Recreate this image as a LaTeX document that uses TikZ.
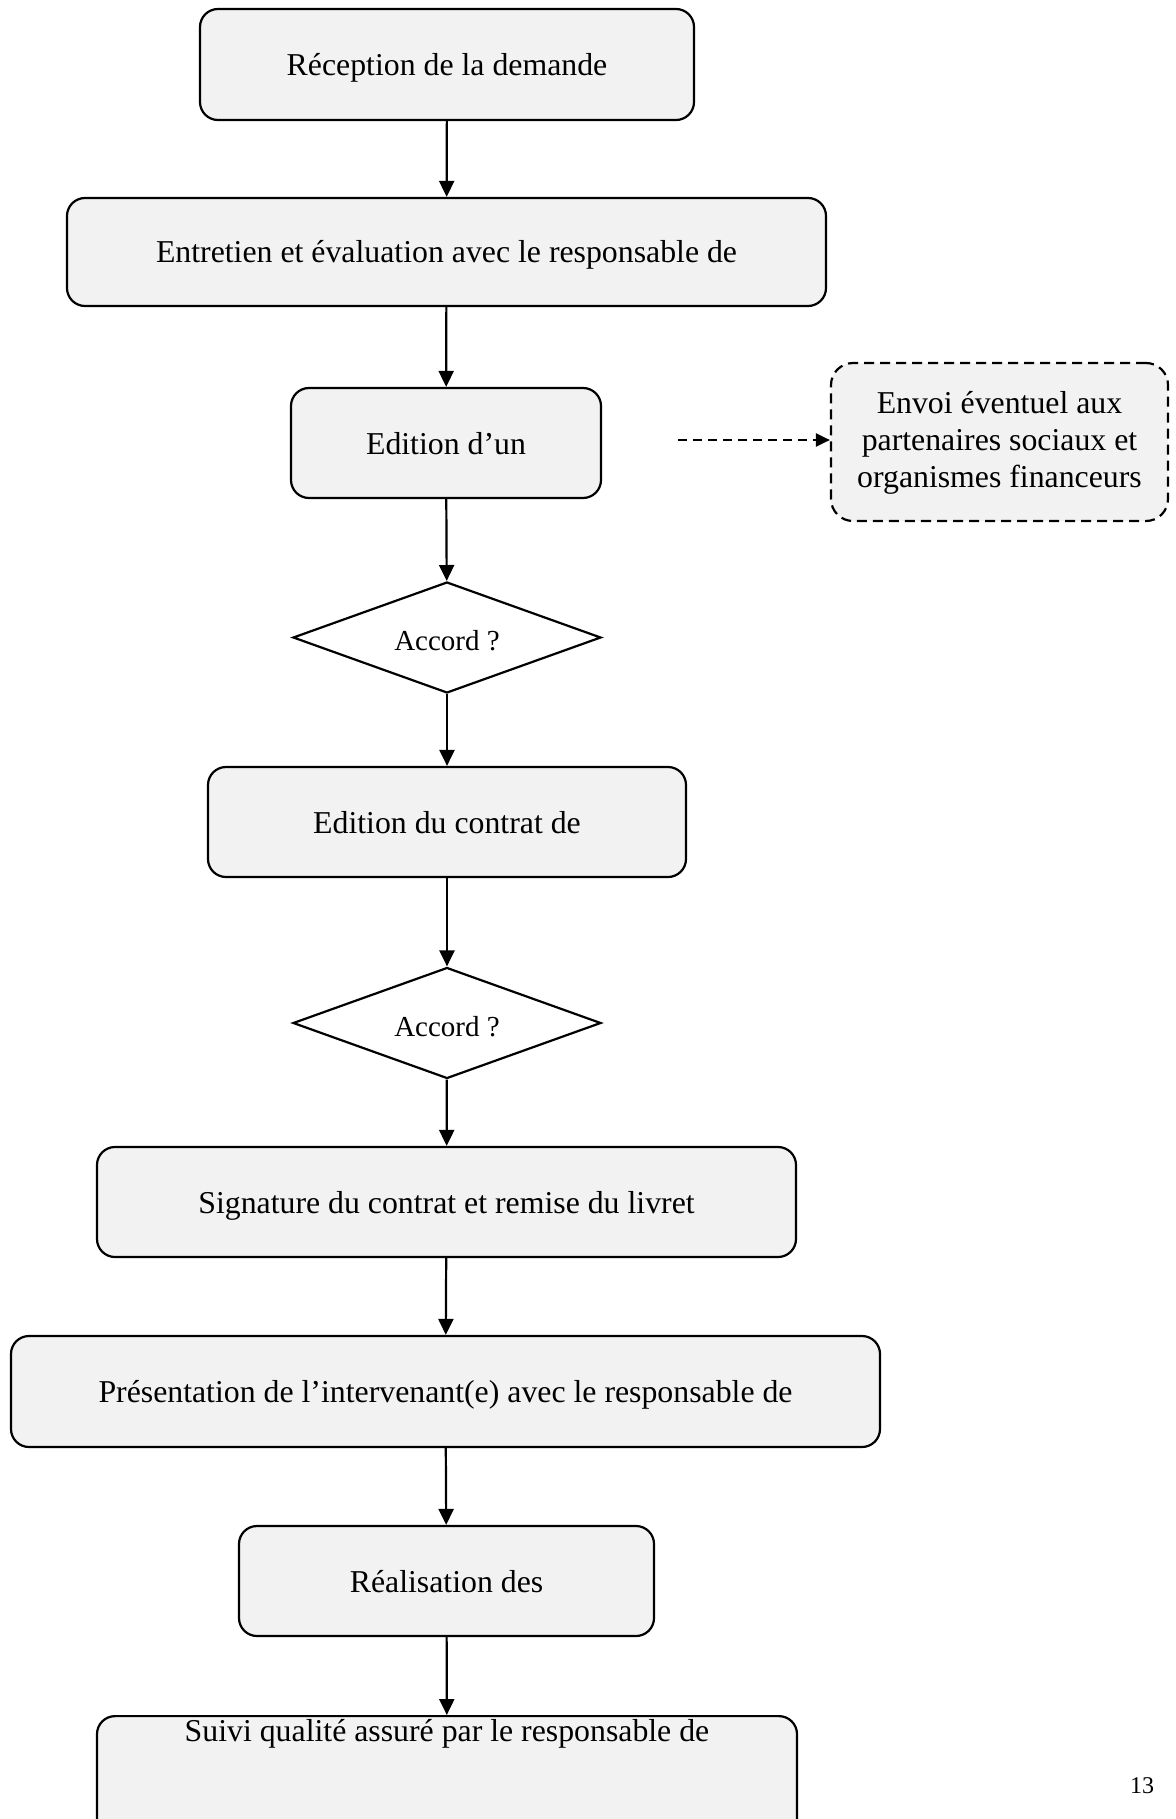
\documentclass[tikz,border=0pt]{standalone}
\usepackage{fontspec}
\setmainfont{Liberation Serif}
\usetikzlibrary{arrows.meta,shapes.geometric}
\definecolor{boxgray}{HTML}{F2F2F2}
\begin{document}
\begin{tikzpicture}[x=0.5pt,y=-0.5pt,
  txt/.style={font=\fontsize{15.9}{18.7}\selectfont},
  box/.style={txt,draw=black,line width=1.1pt,fill=boxgray,rounded corners=9pt,
    minimum width=#1,minimum height=55pt,inner sep=0pt,align=center,
    text height=11pt,text depth=0pt},
  dbox/.style={txt,draw=black,line width=1.1pt,fill=boxgray,rounded corners=11pt,
    dash pattern=on 5pt off 3pt,minimum width=168.5pt,minimum height=79pt,inner sep=0pt,align=center},
  dec/.style={draw=black,line width=1.1pt,shape=diamond,shape aspect=2.77,
    minimum width=154pt,minimum height=55.5pt,inner sep=0pt,font=\fontsize{14.5}{17}\selectfont,
    text height=13pt,text depth=0pt},
  arr/.style={line width=1.1pt,-{Triangle[length=8pt,width=7.5pt]}},
  darr/.style={line width=1.1pt,dash pattern=on 4.5pt off 3pt,-{Triangle[length=7pt,width=6.5pt]}}]
\useasboundingbox (0,0) rectangle (1176,1819);
\clip (0,0) rectangle (1176,1819);

\node[box=247pt,minimum height=55.5pt] (b1) at (447,64.5) {Réception de la demande};
\node[box=379.5pt,minimum height=54pt] (b2) at (446.5,252) {Entretien et évaluation avec le responsable de};
\node[box=155pt] (b3) at (446,443) {Edition d’un};
\node[dbox] (env) at (999.5,442) {\rule{0pt}{12pt}Envoi éventuel aux\\partenaires sociaux et\\organismes financeurs};
\node[dec] (d1) at (447,637.5) {Accord ?};
\node[box=239pt] (b4) at (447,822) {Edition du contrat de};
\node[dec] (d2) at (447,1023) {Accord ?};
\node[box=349.5pt] (b5) at (446.5,1202) {Signature du contrat et remise du livret};
\node[box=434.5pt,minimum height=55.5pt] (b6) at (445.5,1391.5) {Présentation de l’intervenant(e) avec le responsable de};
\node[box=207.5pt] (b7) at (446.5,1581) {Réalisation des};
\node[box=350pt,minimum height=0pt,anchor=north,inner ysep=2pt,text height=10.7pt,text depth=62pt] (b8) at (447,1715) {Suivi qualité assuré par le responsable de};
\node[font=\fontsize{12}{14}\selectfont] (pg) at (1142,1786) {13};

\draw[arr] (b1) -- (b2);
\draw[arr] (b2) -- (b3);
\draw[arr] (b3) -- (d1);
\draw[arr] (d1) -- (b4);
\draw[arr] (b4) -- (d2);
\draw[arr] (d2) -- (b5);
\draw[arr] (b5) -- (b6);
\draw[arr] (b6) -- (b7);
\draw[arr] (b7) -- (b8);
\coordinate (ds) at (678,440);
\draw[darr] (ds) -- (ds -| env.west);
\end{tikzpicture}
\end{document}
